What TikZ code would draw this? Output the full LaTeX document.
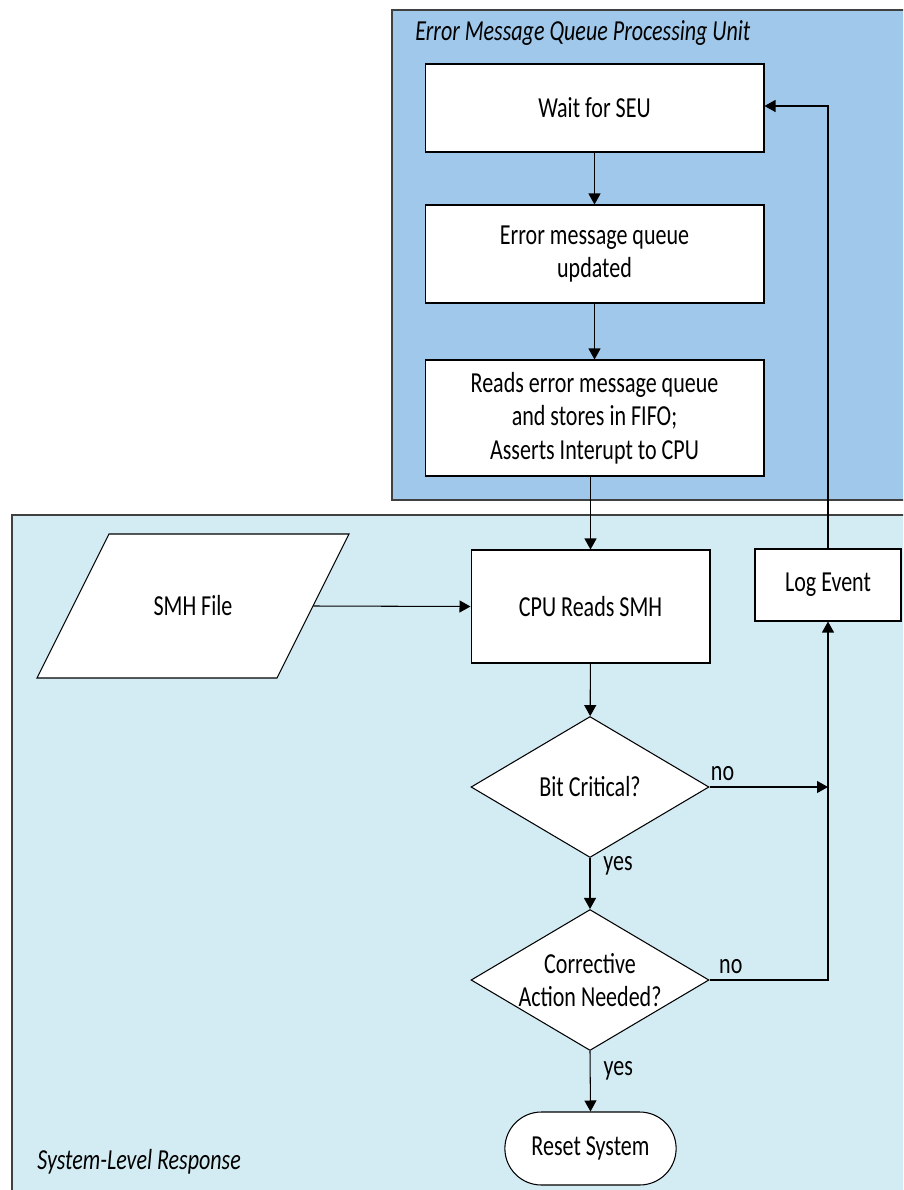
\documentclass[tikz,border=0pt]{standalone}
\usepackage{fontspec}
\setmainfont{Carlito}[FakeStretch=0.76]
\usetikzlibrary{shapes.geometric, shapes.misc, arrows.meta}

\definecolor{queueblue}{RGB}{160,200,234}
\definecolor{systemcyan}{RGB}{211,236,243}
\definecolor{framegray}{RGB}{64,64,64}

\newcommand{\flowfont}{\fontsize{16.5}{19}\selectfont}

\tikzset{
  box/.style={draw, fill=white, line width=0.6pt, align=center, inner sep=2pt},
  decision/.style={draw, fill=white, diamond, aspect=1.7, inner sep=0pt, line width=0.6pt,
    align=center, minimum width=4.76cm, minimum height=2.82cm},
  flow/.style={line width=0.6pt, -{Triangle[length=0.22cm, width=0.24cm]}},
  frame/.style={draw=framegray, line width=0.6pt},
  title/.style={font=\flowfont\itshape, anchor=west, inner sep=0pt}
}

\begin{document}
\begin{tikzpicture}[x=0.02cm, y=-0.02cm, font=\flowfont]
            % Page
            \useasboundingbox (0,0) rectangle (903,1190);
            \clip (0,0) rectangle (903,1190);
            \fill[white] (0,0) rectangle (903,1190);

            % Error message queue processing unit
            \draw[frame, fill=queueblue] (392,10) rectangle (930,500);
            \node[title] (unittitle) at (415,33) {Error Message Queue Processing Unit};

            % System-level response
            \draw[frame, fill=systemcyan] (12,515) rectangle (930,1220);
            \node[title] (systemtitle) at (37,1162) {System-Level Response};

            % Queue steps
            \node[box, minimum width=6.78cm, minimum height=1.76cm] (wait) at (594.5,108) {Wait for SEU};
            \node[box, minimum width=6.78cm, minimum height=1.96cm] (queue) at (594.5,254) {Error message queue\\updated};
            \node[box, minimum width=6.78cm, minimum height=2.32cm] (reads) at (594.5,418) {Reads error message queue\\and stores in FIFO;\\Asserts Interupt to CPU};

            % SMH file
            \draw[line width=0.6pt, fill=white] (109,534) -- (349,534) -- (277,678) -- (37,678) -- cycle;
            \node[minimum width=4.8cm, minimum height=2.88cm] (smh) at (193,606) {SMH File};

            % Response steps
            \node[box, minimum width=4.78cm, minimum height=2.26cm] (cpu) at (590.5,606.5) {CPU Reads SMH};
            \node[box, minimum width=2.92cm, minimum height=1.44cm] (log) at (828,585) {Log Event};
            \node[decision] (bit) at (590,787) {Bit Critical?};
            \node[decision] (action) at (590,980) {Corrective\\Action Needed?};
            \node[draw, fill=white, rounded rectangle, line width=0.6pt, minimum width=3.66cm, minimum height=1.46cm] (reset) at (590.5,1148.5) {Reset System};

            % Arrows
            \draw[flow] (wait) -- (queue);
            \draw[flow] (queue) -- (reads);
            \draw[flow] (cpu.north |- reads.south) -- (cpu.north);
            \draw[flow] (smh.east) -- (cpu.west);
            \draw[flow] (cpu) -- (bit);
            \draw[flow] (bit.south) -- (action.north) node[pos=0.15, right=4pt] {yes};
            \draw[flow] (action.south) -- (reset.north) node[pos=0.33, right=4pt] {yes};
            \draw[flow] (bit.east) -- (bit.east -| log.south) node[pos=0.11, above] {no};
            \draw[flow] (action.east) -- (action.east -| log.south) node[pos=0.18, above] {no} -- (log.south);
            \draw[flow] (log.north) |- ([yshift=0.04cm]wait.east);
\end{tikzpicture}
\end{document}
